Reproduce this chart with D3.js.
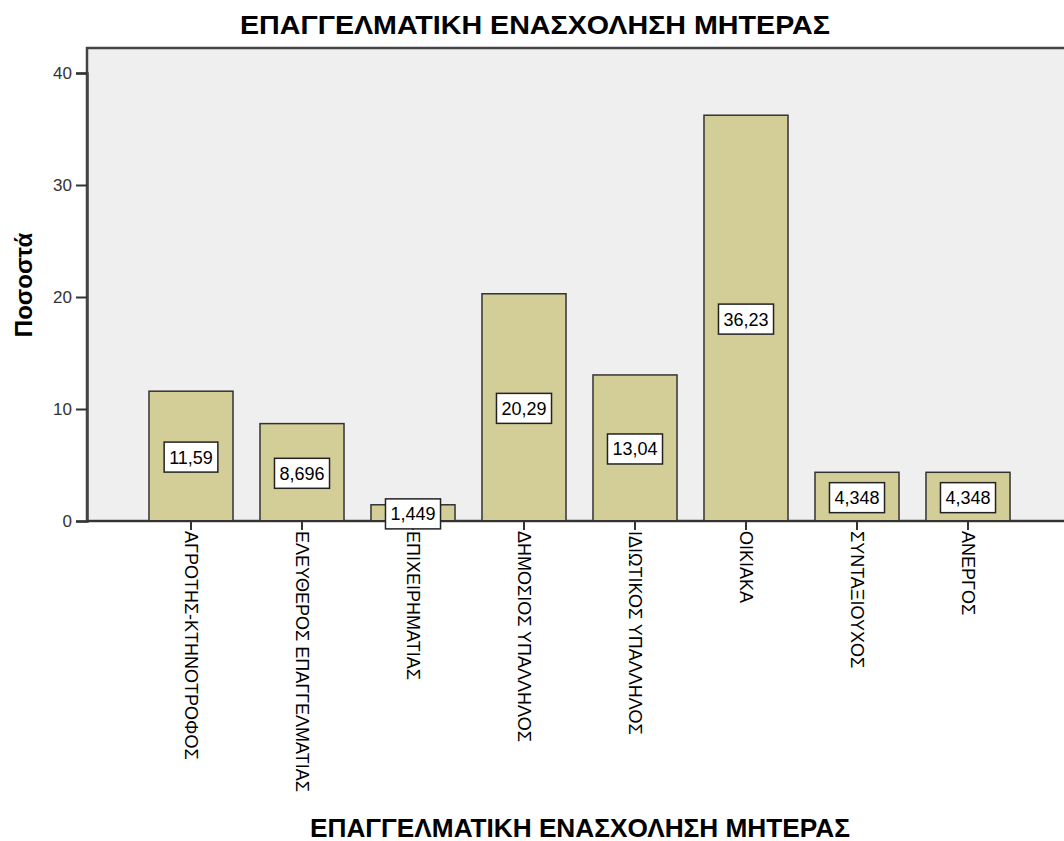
<!DOCTYPE html>
<html><head><meta charset="utf-8">
<script src="https://cdn.jsdelivr.net/npm/d3@7"></script>
<style>body{margin:0;background:#fff}</style>
</head><body><svg id="c" width="1064" height="841"></svg>
<script>
const categories = ["ΑΓΡΟΤΗΣ-ΚΤΗΝΟΤΡΟΦΟΣ","ΕΛΕΥΘΕΡΟΣ ΕΠΑΓΓΕΛΜΑΤΙΑΣ","ΕΠΙΧΕΙΡΗΜΑΤΙΑΣ","ΔΗΜΟΣΙΟΣ ΥΠΑΛΛΗΛΟΣ","ΙΔΙΩΤΙΚΟΣ ΥΠΑΛΛΗΛΟΣ","ΟΙΚΙΑΚΑ","ΣΥΝΤΑΞΙΟΥΧΟΣ","ΑΝΕΡΓΟΣ"];
const values = [11.59, 8.696, 1.449, 20.29, 13.04, 36.23, 4.348, 4.348];
const valueLabels = ["11,59","8,696","1,449","20,29","13,04","36,23","4,348","4,348"];
const yTicks = [0,10,20,30,40];
const title = "ΕΠΑΓΓΕΛΜΑΤΙΚΗ ΕΝΑΣΧΟΛΗΣΗ ΜΗΤΕΡΑΣ";
const xTitle = "ΕΠΑΓΓΕΛΜΑΤΙΚΗ ΕΝΑΣΧΟΛΗΣΗ ΜΗΤΕΡΑΣ";
const yTitle = "Ποσοστά";

const svg = d3.select("#c");
const sans = "'Liberation Sans',Arial,sans-serif";
const plot = {left:87, top:48, right:1066, bottom:521};

const y = d3.scaleLinear().domain([0,40]).range([521,73]);
const x = d3.scaleBand().domain(categories).range([135.5,1023.5]).paddingInner(0.243).paddingOuter(0.1215);

svg.append("rect").attr("x",plot.left).attr("y",plot.top).attr("width",plot.right-plot.left).attr("height",plot.bottom-plot.top)
  .attr("fill","#efefef").attr("stroke","#444").attr("stroke-width",2.5);

svg.append("text").attr("x",535).attr("y",34).attr("text-anchor","middle")
  .attr("font-family",sans).attr("font-weight","bold").attr("font-size",26)
  .attr("textLength",590).attr("lengthAdjust","spacingAndGlyphs").attr("fill","#000").text(title);

svg.selectAll("rect.bar").data(values).enter().append("rect").attr("class","bar")
  .attr("x",(d,i)=>x(categories[i])).attr("width",x.bandwidth())
  .attr("y",d=>y(d)).attr("height",d=>y(0)-y(d))
  .attr("fill","#d3ce97").attr("stroke","#333").attr("stroke-width",1.5);

// y axis
const ya = svg.append("g").attr("transform",`translate(${plot.left},0)`)
  .call(d3.axisLeft(y).tickValues(yTicks).tickSize(11).tickPadding(4));
ya.select(".domain").attr("stroke","#444").attr("stroke-width",2.5);
ya.selectAll(".tick line").attr("stroke","#333").attr("stroke-width",2);
ya.selectAll(".tick text").attr("font-family",sans).attr("font-size",17).attr("fill","#333");

// x axis
const xa = svg.append("g").attr("transform",`translate(0,${plot.bottom})`)
  .call(d3.axisBottom(x).tickSize(9).tickSizeOuter(0));
xa.select(".domain").attr("stroke","#333").attr("stroke-width",2).attr("d",`M${plot.left},0H${plot.right}`);
xa.selectAll(".tick line").attr("stroke","#333").attr("stroke-width",2);
xa.selectAll(".tick text").attr("font-family",sans).attr("font-size",18).attr("fill","#000")
  .attr("text-anchor","start").attr("dy","0.35em").attr("y",0)
  .attr("transform","translate(0,10) rotate(90)");

// value labels
const lg = svg.selectAll("g.vl").data(values).enter().append("g").attr("class","vl")
  .attr("transform",(d,i)=>`translate(${x(categories[i])+x.bandwidth()/2},${y(d/2)+1})`);
lg.each(function(d,i){
  const g = d3.select(this);
  const t = g.append("text").attr("text-anchor","middle").attr("dy","0.36em")
    .attr("font-family",sans).attr("font-size",18).attr("fill","#000").text(valueLabels[i]);
  const w = t.node().getComputedTextLength();
  g.insert("rect","text").attr("x",-w/2-5).attr("y",-15).attr("width",w+10).attr("height",30)
    .attr("fill","#fff").attr("stroke","#222").attr("stroke-width",1.5);
});

svg.append("text").attr("x",580).attr("y",837).attr("text-anchor","middle")
  .attr("font-family",sans).attr("font-weight","bold").attr("font-size",25)
  .attr("textLength",540).attr("lengthAdjust","spacingAndGlyphs").attr("fill","#000").text(xTitle);

svg.append("text").attr("transform","translate(32,285) rotate(-90)").attr("text-anchor","middle")
  .attr("font-family",sans).attr("font-weight","bold").attr("font-size",24).attr("fill","#000").text(yTitle);
</script></body></html>
